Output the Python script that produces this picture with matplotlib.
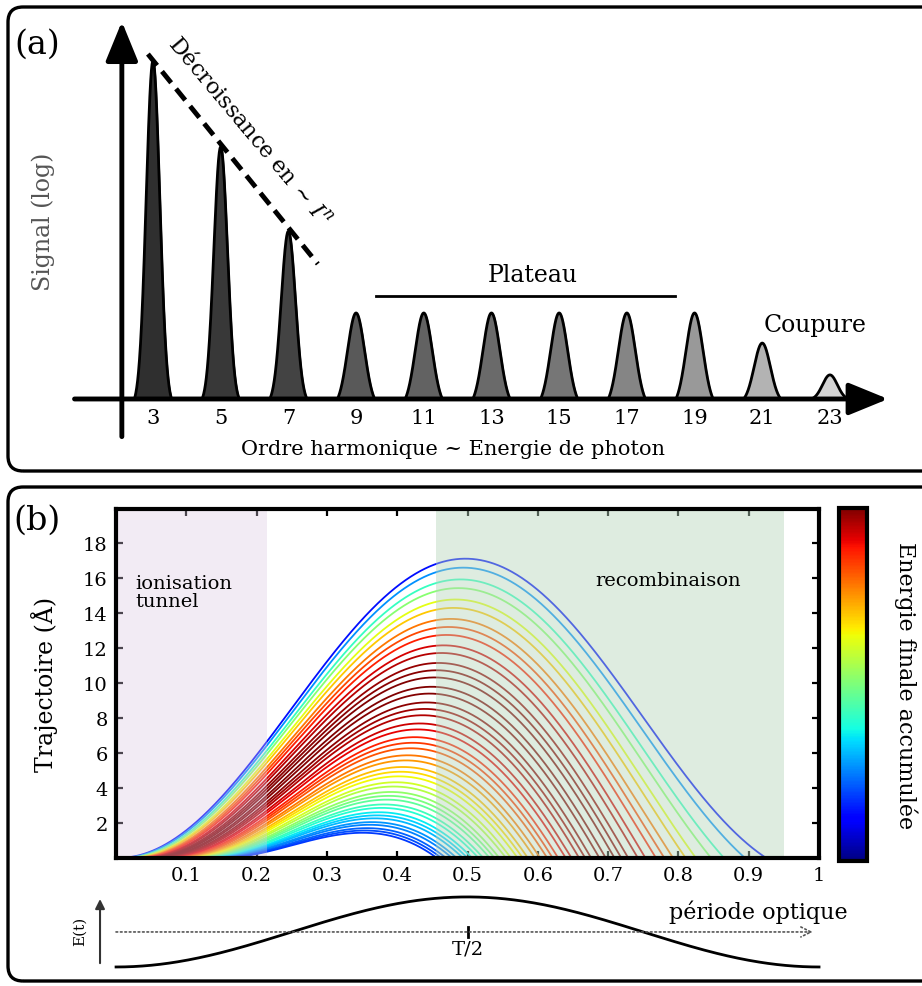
import numpy as np
import matplotlib
matplotlib.use("Agg")
import matplotlib.pyplot as plt
from matplotlib.patches import FancyBboxPatch
from matplotlib.cm import ScalarMappable
from matplotlib.colors import Normalize

plt.rcParams['font.family'] = ['DejaVu Serif']
plt.rcParams['mathtext.fontset'] = 'dejavuserif'

# panel (a): harmonic spectrum (schematic, signal in plateau units)
orders = [3, 5, 7, 9, 11, 13, 15, 17, 19, 21, 23]
signal = [3.93, 2.93, 1.95, 1.0, 1.0, 1.0, 1.0, 1.0, 1.0, 0.65, 0.28]
greys = ['#2f2f2f', '#383838', '#434343', '#595959', '#626262', '#6a6a6a',
         '#767676', '#858585', '#999999', '#b3b3b3', '#d4d4d4']
peak_sigma = [0.2, 0.2, 0.21, 0.25, 0.25, 0.25, 0.25, 0.25, 0.25, 0.24, 0.22]

# panel (b): ionisation instants (fraction of optical period)
t_ion = [0.003, 0.006, 0.010, 0.013, 0.017, 0.020, 0.024, 0.027, 0.030, 0.034,
         0.037, 0.041, 0.044, 0.047, 0.051, 0.054, 0.058, 0.061, 0.064, 0.068,
         0.071, 0.075, 0.078, 0.081, 0.085, 0.088, 0.092, 0.095, 0.098, 0.102,
         0.105, 0.109, 0.112, 0.115, 0.119, 0.122, 0.126, 0.129, 0.132, 0.136,
         0.139, 0.143, 0.146, 0.149]
x_max = 17.1  # excursion of the longest trajectory (Angstrom)

fig = plt.figure(figsize=(9.22, 9.87), dpi=100)

# rounded frames
for (b, h) in [(5.15, 4.64), (0.05, 4.94)]:
    fig.patches.append(FancyBboxPatch((0.08, b), 9.6, h,
                                      boxstyle="round,pad=0,rounding_size=0.15",
                                      transform=fig.dpi_scale_trans,
                                      fc='none', ec='k', lw=2.4))

# ---------------- panel (a)
ax = fig.add_axes([0, 0.5137, 1, 0.4863])
ax.set_xlim(-1.52, 25.72)
ax.set_ylim(-0.93, 4.65)
ax.axis('off')

for h, s, c, sg in zip(orders, signal, greys, peak_sigma):
    dx = np.linspace(-0.55, 0.55, 300)
    g = np.exp(-0.5 * (dx / sg) ** 2)
    e = np.exp(-0.5 * (0.55 / sg) ** 2)
    y = s * (g - e) / (1 - e)
    ax.fill_between(h + dx, 0, y, color=c, zorder=2)
    ax.plot(h + dx, y, color='k', lw=2, zorder=3)
    ax.text(h, -0.21, str(h), ha='center', va='center', fontsize=15)

ax.annotate('', xy=(2.08, 4.42), xytext=(2.08, -0.47),
            arrowprops=dict(arrowstyle='-|>,head_length=1.1,head_width=0.45',
                            lw=3.5, color='k', mutation_scale=22))
ax.annotate('', xy=(24.8, 0), xytext=(0.6, 0),
            arrowprops=dict(arrowstyle='-|>,head_length=1.1,head_width=0.45',
                            lw=3.5, color='k', mutation_scale=22), zorder=4)

ax.plot([2.85, 7.87], [4.01, 1.57], color='k', lw=3.5, ls=(0, (3, 1.6)))
ax.text(5.85, 3.12, r'Décroissance en ~ $I^n$', rotation=-50, ha='center',
        va='center', rotation_mode='anchor', fontsize=16)
ax.plot([9.59, 18.42], [1.2, 1.2], color='k', lw=2)
ax.text(14.23, 1.45, 'Plateau', ha='center', va='center', fontsize=17)
ax.text(22.56, 0.87, 'Coupure', ha='center', va='center', fontsize=17)
ax.text(11.86, -0.57, 'Ordre harmonique ~ Energie de photon', ha='center',
        va='center', fontsize=15)
ax.text(-0.24, 2.07, 'Signal (log)', rotation=90, ha='center', va='center',
        fontsize=17, color='#555555')
ax.text(-0.43, 4.13, '(a)', ha='center', va='center', fontsize=24)

# ---------------- panel (b)
axb = fig.add_axes([0.1258, 0.1297, 0.7625, 0.3536])
axb.set_xlim(0, 1)
axb.set_ylim(0, 19.94)

curves = []
for t0 in t_ion:
    t = np.linspace(t0, 1, 2000)
    w0 = 2 * np.pi * t0
    x = np.cos(w0) - np.cos(2 * np.pi * t) - 2 * np.pi * (t - t0) * np.sin(w0)
    neg = np.where(x[5:] < 0)[0]
    k = neg[0] + 5 if len(neg) else len(t) - 1
    energy = (np.sin(2 * np.pi * t[k]) - np.sin(w0)) ** 2
    curves.append((t[:k + 1], np.clip(x[:k + 1], 0, None), energy))

xs = max(c[1].max() for c in curves)
emax = max(c[2] for c in curves)
norm = Normalize(0, emax)
for t, x, e in curves:
    axb.plot(t, x * x_max / xs, color=plt.cm.jet(norm(e)), lw=1.3, zorder=2)

axb.axvspan(0, 0.215, color='#dac6e0', alpha=0.35, lw=0, zorder=3)
axb.axvspan(0.455, 0.95, color='#b6d5bc', alpha=0.45, lw=0, zorder=3)
axb.text(0.027, 15.2, 'ionisation\ntunnel', fontsize=14, va='center',
         linespacing=0.95, zorder=5)
axb.text(0.785, 15.9, 'recombinaison', fontsize=14, ha='center', va='center',
         zorder=5)

axb.set_xticks([0.1, 0.2, 0.3, 0.4, 0.5, 0.6, 0.7, 0.8, 0.9, 1.0])
axb.set_xticklabels(['0.1', '0.2', '0.3', '0.4', '0.5', '0.6', '0.7', '0.8',
                     '0.9', '1'])
axb.set_yticks([2, 4, 6, 8, 10, 12, 14, 16, 18])
axb.tick_params(direction='in', length=5, width=1.6, top=True, right=True,
                labelsize=14, pad=6)
for sp in axb.spines.values():
    sp.set_linewidth(3)
    sp.set_zorder(6)
axb.set_ylabel('Trajectoire (Å)', fontsize=17, labelpad=18)

cax = fig.add_axes([0.910, 0.1266, 0.0304, 0.3576])
cb = fig.colorbar(ScalarMappable(norm=norm, cmap='jet'), cax=cax)
cb.set_ticks([])
cb.outline.set_linewidth(3)
cb.set_label('Energie finale accumulée', rotation=270, fontsize=16,
             labelpad=36)

fig.text(0.040, 0.472, '(b)', ha='center', va='center', fontsize=24)

# ---------------- E(t) sketch
axe = fig.add_axes([0.0651, 0.0071, 0.8785, 0.0963])
axe.set_xlim(-0.0797, 1.0725)
axe.set_ylim(-1.343, 1.371)
axe.axis('off')
tt = np.linspace(0, 1, 400)
axe.plot(tt, -np.cos(2 * np.pi * tt), color='k', lw=2)
axe.annotate('', xy=(0.995, 0), xytext=(-0.004, 0),
             arrowprops=dict(arrowstyle='->', ls=':', lw=1.2, color='#555555',
                             mutation_scale=18))
axe.annotate('', xy=(-0.0228, 1.02), xytext=(-0.0228, -0.97),
             arrowprops=dict(arrowstyle='-|>', lw=1.5, color='#333333',
                             mutation_scale=14))
axe.plot([0.5, 0.5], [-0.15, 0.15], color='k', lw=2)
axe.text(0.5, -0.48, 'T/2', ha='center', va='center', fontsize=14)
axe.text(-0.052, 0.05, 'E(t)', rotation=90, ha='center', va='center',
         fontsize=11)
axe.text(1.04, 0.6, 'période optique', ha='right', va='center', fontsize=16)

fig.savefig('out.png', dpi=100)
